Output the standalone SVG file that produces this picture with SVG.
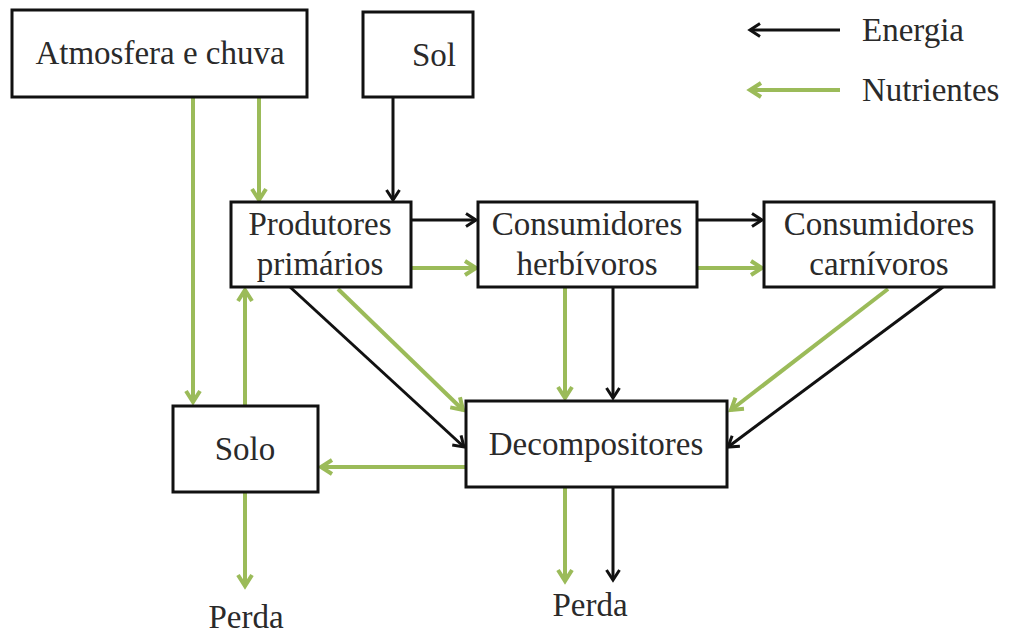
<svg xmlns="http://www.w3.org/2000/svg" width="1010" height="636" viewBox="0 0 1010 636" font-family="Liberation Serif, Tinos, Times New Roman, Times, Noto Serif, DejaVu Serif, FreeSerif, serif">
  <style>
    .box { fill: #ffffff; stroke: #111111; stroke-width: 3; }
    .lbl { font-size: 33px; fill: #2a2a2a; text-anchor: middle; }
    .leg { font-size: 33px; fill: #2a2a2a; }
    .en { fill: none; stroke: #111111; stroke-width: 3; marker-end: url(#headEn); }
    .nu { fill: none; stroke: #9bbb59; stroke-width: 4; marker-end: url(#headNu); }
  </style>
  <defs>
    <marker id="headEn" markerUnits="userSpaceOnUse" viewBox="0 0 16 16" markerWidth="16" markerHeight="16" refX="13" refY="8" orient="auto">
      <path d="M3,1.5 L13,8 L3,14.5" fill="none" stroke="#111111" stroke-width="3" stroke-linejoin="miter"/>
    </marker>
    <marker id="headNu" markerUnits="userSpaceOnUse" viewBox="0 0 18 18" markerWidth="18" markerHeight="18" refX="14" refY="9" orient="auto">
      <path d="M3,2 L14,9 L3,16" fill="none" stroke="#9bbb59" stroke-width="4" stroke-linejoin="miter"/>
    </marker>
  </defs>

  <rect width="1010" height="636" fill="#ffffff"/>

  <!-- legend -->
  <g id="legend">
    <line class="en" x1="840" y1="30" x2="750" y2="30"/>
    <text class="leg" x="862" y="41">Energia</text>
    <line class="nu" x1="840" y1="90" x2="750" y2="90"/>
    <text class="leg" x="862" y="101">Nutrientes</text>
  </g>

  <!-- flows -->
  <g id="connectors">
    <!-- from the atmosphere -->
    <line class="nu" x1="193" y1="97" x2="193" y2="402"/>
    <line class="nu" x1="259" y1="97" x2="259" y2="200"/>
    <!-- sunlight -->
    <line class="en" x1="393" y1="97" x2="393" y2="200"/>
    <!-- soil back to producers -->
    <line class="nu" x1="245" y1="405" x2="245" y2="290"/>
    <!-- producers to herbivores -->
    <line class="en" x1="411" y1="220" x2="476" y2="220"/>
    <line class="nu" x1="411" y1="268" x2="476" y2="268"/>
    <!-- herbivores to carnivores -->
    <line class="en" x1="697" y1="220" x2="762" y2="220"/>
    <line class="nu" x1="697" y1="268" x2="762" y2="268"/>
    <!-- producers to decomposers -->
    <line class="en" x1="290" y1="287" x2="464" y2="447"/>
    <line class="nu" x1="338" y1="289" x2="463" y2="410"/>
    <!-- herbivores to decomposers -->
    <line class="nu" x1="565" y1="287" x2="565" y2="398"/>
    <line class="en" x1="613" y1="287" x2="613" y2="398"/>
    <!-- carnivores to decomposers -->
    <line class="nu" x1="888" y1="289" x2="731" y2="410"/>
    <line class="en" x1="943" y1="287" x2="728" y2="447"/>
    <!-- decomposers to soil -->
    <line class="nu" x1="465" y1="467" x2="321" y2="467"/>
    <!-- losses -->
    <line class="nu" x1="245" y1="492" x2="245" y2="586"/>
    <line class="nu" x1="565" y1="487" x2="565" y2="581"/>
    <line class="en" x1="613" y1="487" x2="613" y2="580"/>
  </g>

  <g id="atmosfera">
    <rect class="box" x="12" y="10" width="295" height="87"/>
    <text class="lbl" x="160" y="64">Atmosfera e chuva</text>
  </g>
  <g id="sol">
    <rect class="box" x="363" y="12" width="110" height="85"/>
    <text class="lbl" x="434" y="66">Sol</text>
  </g>
  <g id="produtores">
    <rect class="box" x="231" y="202" width="180" height="85"/>
    <text class="lbl" x="320" y="235">Produtores</text>
    <text class="lbl" x="320" y="275">primários</text>
  </g>
  <g id="herbivoros">
    <rect class="box" x="478" y="202" width="219" height="85"/>
    <text class="lbl" x="587" y="235">Consumidores</text>
    <text class="lbl" x="587" y="275">herbívoros</text>
  </g>
  <g id="carnivoros">
    <rect class="box" x="764" y="202" width="230" height="85"/>
    <text class="lbl" x="879" y="235">Consumidores</text>
    <text class="lbl" x="879" y="275">carnívoros</text>
  </g>
  <g id="solo">
    <rect class="box" x="173" y="406" width="145" height="86"/>
    <text class="lbl" x="245" y="460">Solo</text>
  </g>
  <g id="decompositores">
    <rect class="box" x="466" y="401" width="261" height="86"/>
    <text class="lbl" x="596" y="455">Decompositores</text>
  </g>
  <g id="perda-solo">
    <text class="lbl" x="246" y="628">Perda</text>
  </g>
  <g id="perda-decomp">
    <text class="lbl" x="590" y="616">Perda</text>
  </g>
</svg>
